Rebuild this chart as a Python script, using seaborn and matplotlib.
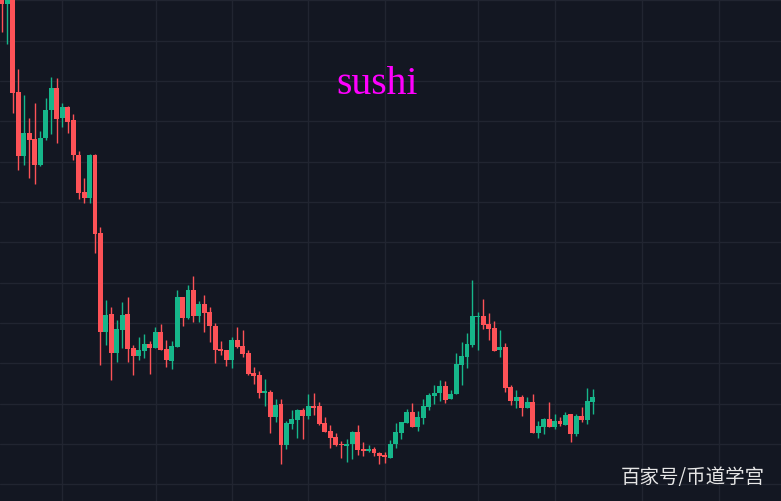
import matplotlib
matplotlib.use("Agg")
import numpy as np
import pandas as pd
import seaborn as sns
import matplotlib.pyplot as plt

# ---- data (price units, arbitrary scale) ----
open_ = [508, 496, 506, 408, 344, 367, 361, 335, 362, 390, 412, 382, 393, 380, 345, 308, 302, 345,
         267, 168, 186, 147, 170, 186, 152, 144, 149, 156, 152, 168, 151, 139, 153, 203, 182, 210,
         184, 196, 188, 174, 151, 150, 140, 160, 154, 147, 127, 125, 107, 108, 83, 96, 55, 76,
         80, 90, 84, 94, 94, 77, 69, 63, 56, 54, 56, 68, 51, 49, 51, 47, 45, 42,
         56, 67, 77, 88, 73, 82, 93, 104, 107, 114, 101, 106, 135, 143, 155, 183, 184, 176,
         172, 150, 153, 113, 99, 103, 92, 98, 67, 73, 81, 73, 79, 75, 86, 66, 84, 80, 98]
high = [515, 512, 510, 431, 405, 382, 397, 369, 402, 423, 422, 397, 394, 386, 349, 322, 346, 346,
        273, 200, 193, 180, 198, 203, 155, 163, 166, 159, 173, 176, 160, 159, 210, 203, 215, 224,
        199, 205, 193, 177, 159, 150, 163, 173, 170, 150, 133, 129, 121, 110, 101, 101, 79, 90,
        91, 92, 106, 107, 98, 83, 75, 67, 59, 61, 69, 75, 58, 55, 53, 48, 48, 60,
        77, 78, 91, 97, 89, 101, 107, 115, 120, 119, 110, 147, 158, 167, 220, 188, 201, 187,
        179, 170, 157, 115, 110, 105, 103, 106, 79, 82, 98, 86, 83, 88, 86, 86, 93, 112, 111]
low = [468, 456, 387, 330, 335, 322, 316, 334, 360, 366, 357, 373, 367, 340, 301, 297, 297, 247,
       135, 155, 120, 138, 152, 138, 125, 140, 142, 126, 152, 150, 133, 131, 153, 174, 181, 178,
       178, 168, 158, 137, 145, 134, 132, 152, 143, 125, 116, 102, 94, 67, 78, 36, 51, 71,
       62, 61, 81, 85, 75, 68, 52, 54, 42, 38, 41, 45, 44, 48, 44, 36, 37, 42,
       52, 61, 77, 73, 69, 76, 90, 96, 99, 97, 101, 106, 115, 132, 153, 150, 171, 160,
       149, 143, 108, 95, 92, 84, 92, 67, 62, 66, 73, 71, 74, 75, 58, 64, 78, 76, 86]
close = [496, 506, 407, 344, 367, 360, 335, 362, 390, 412, 381, 393, 378, 345, 307, 302, 345, 266,
         168, 185, 147, 171, 185, 151, 144, 150, 156, 152, 168, 150, 140, 154, 203, 182, 210, 184,
         196, 187, 174, 150, 149, 140, 160, 153, 146, 126, 124, 107, 109, 83, 95, 55, 77, 81,
         90, 84, 94, 92, 76, 68, 62, 55, 55, 56, 68, 50, 49, 51, 47, 44, 43, 56,
         68, 78, 88, 73, 83, 94, 105, 107, 114, 100, 106, 136, 144, 156, 184, 184, 175, 171,
         149, 153, 112, 99, 103, 92, 98, 67, 74, 81, 73, 79, 76, 85, 66, 84, 80, 99, 103]

# time-axis grid positions (in candle index units) and price grid levels
x_grid = [11, 28.2, 42, 55.9, 70, 87, 101.1, 117, 131.1]
y_grid = [499.7, 459.4, 419.0, 378.7, 338.4, 298.0, 257.7, 217.4, 177.1, 136.7, 96.4, 56.1, 15.7]

title = "sushi"
watermark = "百家号/币道学宫"

BG = "#131722"
GRID = "#212531"
UP = "#16B68A"
DOWN = "#FD5257"

df = pd.DataFrame({"open": open_, "high": high, "low": low, "close": close})
df["idx"] = np.arange(len(df))
df["up"] = df["close"] >= df["open"]
df["color"] = np.where(df["up"], UP, DOWN)
df["bottom"] = df[["open", "close"]].min(axis=1)
df["height"] = (df["close"] - df["open"]).abs().clip(lower=1.0)

sns.set_theme(style="dark", rc={"axes.facecolor": BG, "figure.facecolor": BG,
                                "grid.color": GRID, "axes.edgecolor": BG})
plt.rcParams["font.family"] = ["Noto Sans CJK SC", "DejaVu Sans"]

fig = plt.figure(figsize=(7.81, 5.01), dpi=100)
ax = fig.add_axes([0, 0, 1, 1])
ax.set_facecolor(BG)

ax.set_xticks(x_grid)
ax.set_yticks(y_grid)
ax.grid(True, color=GRID, linewidth=1.0)
ax.set_axisbelow(True)
ax.tick_params(length=0, labelbottom=False, labelleft=False)
sns.despine(ax=ax, left=True, bottom=True)

ax.vlines(df["idx"], df["low"], df["high"], colors=df["color"], linewidth=1.0, zorder=2)
ax.bar(df["idx"], df["height"], bottom=df["bottom"], width=0.9, color=df["color"],
       linewidth=0, zorder=3)

ax.set_xlim(-0.366, 142.4)
ax.set_ylim(-1, 500)

fig.text(377 / 781, 1 - 94 / 501, title, color="#FF00FF", fontsize=28.5,
         family=["Liberation Serif", "DejaVu Serif"], ha="center", va="baseline")
fig.text(693 / 781, 1 - 478 / 501, watermark, color="#E6E6E6", fontsize=14,
         family=["Noto Sans CJK SC", "DejaVu Sans"], ha="center", va="center")

fig.savefig("out.png", dpi=100, facecolor=BG)
